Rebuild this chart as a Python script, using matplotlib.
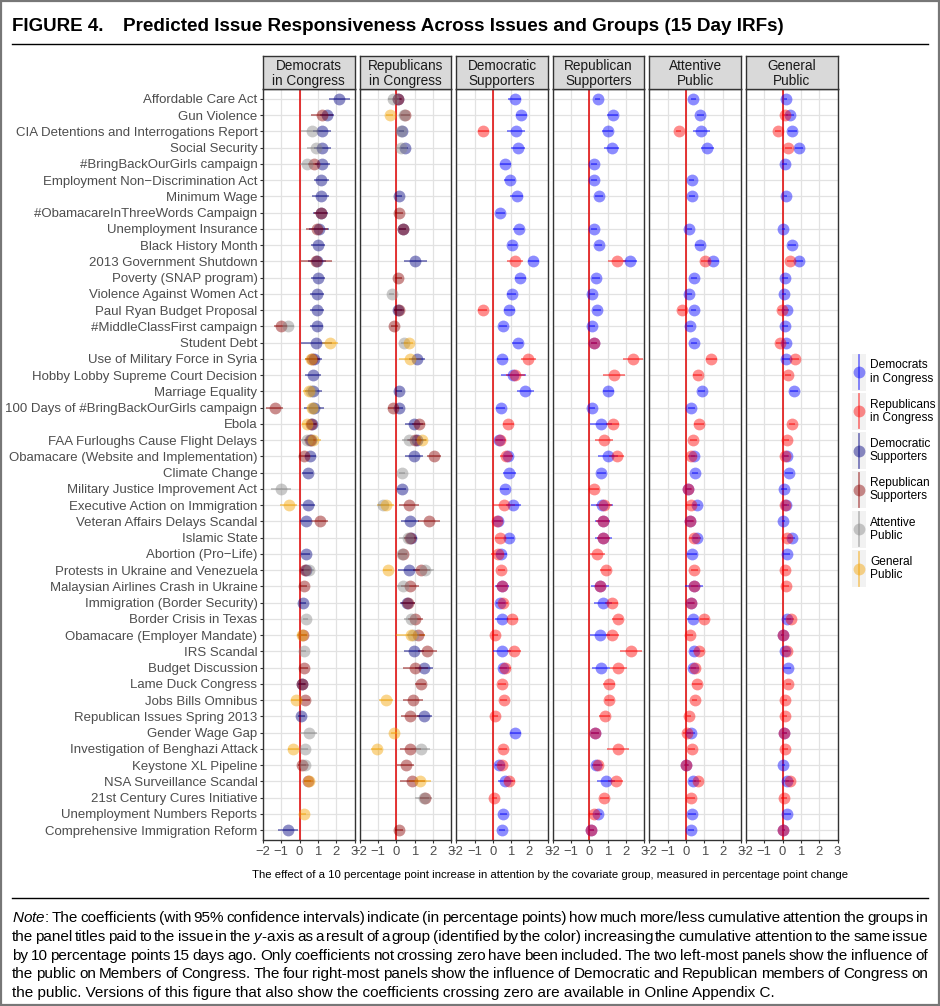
import numpy as np
import matplotlib
matplotlib.use("Agg")
import matplotlib.pyplot as plt
from matplotlib.patches import Rectangle

plt.rcParams['font.family'] = ['Liberation Sans', 'DejaVu Sans']
plt.rcParams['mathtext.fontset'] = 'custom'
plt.rcParams['mathtext.rm'] = 'Liberation Sans'
plt.rcParams['mathtext.it'] = 'Liberation Sans:italic'

ISSUES = [
    "Affordable Care Act", "Gun Violence", "CIA Detentions and Interrogations Report",
    "Social Security", "#BringBackOurGirls campaign", "Employment Non\u2212Discrimination Act",
    "Minimum Wage", "#ObamacareInThreeWords Campaign", "Unemployment Insurance",
    "Black History Month", "2013 Government Shutdown", "Poverty (SNAP program)",
    "Violence Against Women Act", "Paul Ryan Budget Proposal", "#MiddleClassFirst campaign",
    "Student Debt", "Use of Military Force in Syria", "Hobby Lobby Supreme Court Decision",
    "Marriage Equality", "100 Days of #BringBackOurGirls campaign", "Ebola",
    "FAA Furloughs Cause Flight Delays", "Obamacare (Website and Implementation)",
    "Climate Change", "Military Justice Improvement Act", "Executive Action on Immigration",
    "Veteran Affairs Delays Scandal", "Islamic State", "Abortion (Pro\u2212Life)",
    "Protests in Ukraine and Venezuela", "Malaysian Airlines Crash in Ukraine",
    "Immigration (Border Security)", "Border Crisis in Texas", "Obamacare (Employer Mandate)",
    "IRS Scandal", "Budget Discussion", "Lame Duck Congress", "Jobs Bills Omnibus",
    "Republican Issues Spring 2013", "Gender Wage Gap", "Investigation of Benghazi Attack",
    "Keystone XL Pipeline", "NSA Surveillance Scandal", "21st Century Cures Initiative",
    "Unemployment Numbers Reports", "Comprehensive Immigration Reform",
]

PANEL_TITLES = ["Democrats\nin Congress", "Republicans\nin Congress", "Democratic\nSupporters",
                "Republican\nSupporters", "Attentive\nPublic", "General\nPublic"]

GROUPS = ["DC", "RC", "DS", "RS", "AP", "GP"]
GROUP_LABELS = ["Democrats\nin Congress", "Republicans\nin Congress", "Democratic\nSupporters",
                "Republican\nSupporters", "Attentive\nPublic", "General\nPublic"]
GROUP_COLORS = {"DC": "#0000ff", "RC": "#ff0000", "DS": "#000080",
                "RS": "#8b0000", "AP": "#888888", "GP": "#f5a300"}

# (issue row, estimate, half width of 95% CI)
p1_ds = [(0, 2.18, 0.6), (1, 1.5, 0.4), (2, 1.24, 0.5), (3, 1.24, 0.45), (4, 1.24, 0.4),
         (5, 1.18, 0.4), (6, 1.15, 0.45), (7, 1.15, 0.4), (8, 1.04, 0.55), (9, 1.0, 0.4),
         (10, 0.95, 0.5), (11, 1.0, 0.4), (12, 0.95, 0.4), (13, 0.95, 0.4), (14, 0.93, 0.35),
         (15, 0.9, 0.85), (16, 0.78, 0.45), (17, 0.73, 0.45), (18, 0.75, 0.45), (19, 0.8, 0.55),
         (20, 0.7, 0.2), (21, 0.6, 0.3), (22, 0.58, 0.3), (23, 0.45, 0.3), (25, 0.45, 0.4),
         (26, 0.33, 0.3), (28, 0.33, 0.25), (29, 0.35, 0.2), (31, 0.18, 0.15), (36, 0.12, 0.2),
         (38, 0.09, 0.2), (45, -0.64, 0.55)]
p1_rs = [(1, 1.25, 0.6), (4, 0.78, 0.3), (7, 1.15, 0.35), (8, 0.96, 0.6), (10, 0.9, 0.85),
         (14, -1.04, 0.35), (16, 0.7, 0.4), (19, -1.36, 0.45), (20, 0.65, 0.3), (21, 0.55, 0.3),
         (22, 0.25, 0.3), (26, 1.09, 0.45), (29, 0.3, 0.2), (30, 0.22, 0.2), (33, 0.18, 0.2),
         (35, 0.24, 0.2), (36, 0.15, 0.2), (37, 0.27, 0.3), (41, 0.13, 0.2), (42, 0.45, 0.2)]
p1_ap = [(2, 0.67, 0.6), (3, 0.9, 0.5), (4, 0.42, 0.4), (14, -0.62, 0.3), (18, 0.65, 0.3),
         (19, 0.75, 0.4), (21, 0.38, 0.35), (24, -1.04, 0.55), (29, 0.5, 0.3), (32, 0.33, 0.15),
         (34, 0.22, 0.15), (39, 0.49, 0.45), (40, 0.27, 0.2), (41, 0.31, 0.2)]
p1_gp = [(15, 1.65, 0.45), (16, 0.62, 0.35), (18, 0.5, 0.3), (19, 0.7, 0.3), (20, 0.42, 0.3),
         (21, 0.75, 0.4), (25, -0.6, 0.45), (33, 0.12, 0.25), (37, -0.18, 0.3), (40, -0.35, 0.3),
         (42, 0.5, 0.25), (44, 0.22, 0.15)]

p2_ds = [(0, 0.12, 0.15), (2, 0.3, 0.15), (3, 0.47, 0.2), (6, 0.15, 0.15), (8, 0.35, 0.2),
         (10, 1.05, 0.65), (13, 0.1, 0.2), (16, 1.15, 0.45), (18, 0.15, 0.15), (19, 0.15, 0.2),
         (20, 0.98, 0.5), (21, 1.15, 0.5), (22, 0.98, 0.5), (24, 0.29, 0.25), (26, 0.76, 0.5),
         (27, 0.8, 0.35), (29, 0.69, 0.6), (31, 0.6, 0.4), (34, 0.96, 0.55), (35, 1.53, 0.5),
         (38, 1.53, 0.4)]
p2_rs = [(0, 0.1, 0.2), (1, 0.5, 0.25), (7, 0.16, 0.2), (8, 0.35, 0.2), (11, 0.11, 0.2),
         (13, 0.15, 0.25), (14, -0.11, 0.2), (19, -0.15, 0.3), (20, 1.24, 0.35), (21, 1.0, 0.4),
         (22, 2.07, 0.4), (25, 0.69, 0.55), (26, 1.78, 0.6), (27, 0.75, 0.3), (28, 0.35, 0.25),
         (29, 1.38, 0.45), (30, 0.75, 0.5), (31, 0.65, 0.4), (32, 1.05, 0.4), (33, 1.2, 0.4),
         (34, 1.71, 0.5), (35, 1.05, 0.7), (36, 1.33, 0.3), (37, 0.93, 0.55), (38, 0.78, 0.5),
         (40, 0.78, 0.55), (41, 0.51, 0.45), (42, 0.89, 0.7), (43, 1.55, 0.25), (45, 0.16, 0.2)]
p2_ap = [(0, -0.2, 0.25), (1, 0.45, 0.3), (2, 0.25, 0.2), (3, 0.25, 0.2), (12, -0.25, 0.15),
         (15, 0.44, 0.2), (21, 0.7, 0.4), (23, 0.33, 0.15), (25, -0.7, 0.3), (27, 0.65, 0.5),
         (28, 0.3, 0.2), (29, 1.56, 0.5), (30, 0.38, 0.35), (32, 0.8, 0.4), (33, 0.9, 0.3),
         (40, 1.33, 0.5), (43, 1.5, 0.45)]
p2_gp = [(1, -0.35, 0.2), (15, 0.69, 0.25), (16, 0.75, 0.6), (21, 1.4, 0.3), (25, -0.58, 0.45),
         (29, -0.47, 0.25), (33, 0.8, 0.8), (37, -0.56, 0.4), (39, -0.11, 0.15), (40, -1.05, 0.3),
         (42, 1.29, 0.6)]

p3_dc = [(0, 1.2, 0.35), (1, 1.55, 0.3), (2, 1.27, 0.5), (3, 1.38, 0.4), (4, 0.69, 0.3),
         (5, 0.93, 0.3), (6, 1.31, 0.35), (7, 0.4, 0.25), (8, 1.42, 0.3), (9, 1.07, 0.25),
         (10, 2.22, 0.3), (11, 1.49, 0.3), (12, 1.04, 0.25), (13, 0.91, 0.3), (14, 0.55, 0.2),
         (15, 1.35, 0.3), (16, 0.51, 0.3), (17, 1.13, 0.7), (18, 1.78, 0.45), (19, 0.44, 0.25),
         (21, 0.35, 0.2), (22, 0.85, 0.25), (23, 0.91, 0.35), (24, 0.64, 0.25), (25, 1.13, 0.4),
         (26, 0.3, 0.25), (27, 0.91, 0.25), (28, 0.45, 0.3), (30, 0.5, 0.4), (31, 0.4, 0.25),
         (32, 0.49, 0.35), (34, 0.51, 0.5), (35, 0.55, 0.2), (39, 1.22, 0.3), (41, 0.33, 0.2),
         (42, 0.69, 0.4), (44, 0.58, 0.2), (45, 0.49, 0.15)]
p3_rc = [(2, -0.51, 0.3), (10, 1.22, 0.45), (13, -0.55, 0.25), (16, 1.95, 0.4), (17, 1.24, 0.5),
         (20, 0.84, 0.3), (21, 0.4, 0.3), (22, 0.73, 0.35), (25, 0.6, 0.6), (26, 0.22, 0.25),
         (27, 0.4, 0.3), (28, 0.27, 0.35), (29, 0.47, 0.2), (30, 0.5, 0.3), (31, 0.58, 0.25),
         (32, 1.05, 0.3), (33, 0.13, 0.15), (34, 1.15, 0.4), (35, 0.69, 0.3), (36, 0.51, 0.2),
         (37, 0.6, 0.2), (38, 0.13, 0.15), (40, 0.55, 0.2), (41, 0.49, 0.2), (42, 0.91, 0.3),
         (43, 0.09, 0.15)]

p4_dc = [(0, 0.45, 0.15), (1, 1.27, 0.3), (2, 1.0, 0.3), (3, 1.22, 0.4), (4, 0.25, 0.15),
         (5, 0.25, 0.15), (6, 0.53, 0.2), (8, 0.25, 0.15), (9, 0.51, 0.2), (10, 2.22, 0.4),
         (11, 0.36, 0.2), (12, 0.15, 0.15), (13, 0.42, 0.2), (14, 0.15, 0.15), (15, 0.25, 0.15),
         (18, 1.04, 0.3), (19, 0.15, 0.15), (20, 0.62, 0.6), (22, 1.0, 0.55), (23, 0.64, 0.25),
         (25, 0.67, 0.6), (26, 0.72, 0.4), (27, 0.76, 0.45), (30, 0.58, 0.5), (31, 0.73, 0.5),
         (33, 0.58, 0.55), (35, 0.62, 0.5), (39, 0.3, 0.2), (41, 0.36, 0.2), (42, 0.91, 0.5),
         (44, 0.49, 0.2), (45, 0.11, 0.15)]
p4_rc = [(10, 1.49, 0.5), (15, 0.25, 0.15), (16, 2.36, 0.55), (17, 1.36, 0.6), (20, 1.27, 0.35),
         (21, 0.8, 0.5), (22, 1.49, 0.4), (24, 0.25, 0.25), (25, 0.8, 0.45), (26, 0.72, 0.35),
         (27, 0.76, 0.35), (28, 0.44, 0.4), (29, 0.89, 0.3), (30, 0.58, 0.25), (31, 1.22, 0.35),
         (32, 1.55, 0.3), (33, 1.25, 0.35), (34, 2.25, 0.6), (35, 1.58, 0.45), (36, 1.07, 0.35),
         (37, 1.09, 0.25), (38, 0.85, 0.3), (39, 0.3, 0.2), (40, 1.55, 0.6), (41, 0.49, 0.25),
         (42, 1.44, 0.4), (43, 0.82, 0.25), (44, 0.25, 0.25), (45, 0.11, 0.15)]

p5_dc = [(0, 0.4, 0.15), (1, 0.78, 0.2), (2, 0.84, 0.45), (3, 1.16, 0.35), (5, 0.31, 0.15),
         (6, 0.33, 0.15), (8, 0.18, 0.15), (9, 0.75, 0.25), (10, 1.49, 0.3), (11, 0.45, 0.15),
         (12, 0.18, 0.15), (13, 0.42, 0.15), (14, 0.22, 0.15), (15, 0.45, 0.15), (18, 0.85, 0.2),
         (19, 0.29, 0.2), (22, 0.45, 0.15), (23, 0.49, 0.15), (24, 0.13, 0.15), (25, 0.58, 0.2),
         (26, 0.22, 0.15), (27, 0.6, 0.2), (28, 0.33, 0.25), (30, 0.45, 0.5), (31, 0.27, 0.15),
         (32, 0.36, 0.3), (34, 0.45, 0.25), (35, 0.36, 0.2), (39, 0.27, 0.2), (41, 0.02, 0.1),
         (42, 0.36, 0.2), (44, 0.33, 0.2), (45, 0.27, 0.15)]
p5_rc = [(2, -0.4, 0.15), (10, 1.05, 0.25), (13, -0.24, 0.2), (16, 1.38, 0.3), (17, 0.65, 0.25),
         (20, 0.71, 0.3), (21, 0.4, 0.2), (22, 0.29, 0.2), (24, 0.13, 0.2), (25, 0.27, 0.25),
         (26, 0.22, 0.2), (27, 0.42, 0.25), (29, 0.45, 0.2), (30, 0.45, 0.2), (31, 0.27, 0.2),
         (32, 1.0, 0.25), (33, 0.22, 0.15), (34, 0.69, 0.3), (35, 0.49, 0.2), (36, 0.6, 0.25),
         (37, 0.47, 0.15), (38, 0.15, 0.1), (39, 0.05, 0.2), (40, 0.31, 0.2), (41, 0.02, 0.15),
         (42, 0.64, 0.2), (43, 0.27, 0.2)]

p6_dc = [(0, 0.16, 0.1), (1, 0.4, 0.2), (2, 0.53, 0.25), (3, 0.89, 0.2), (4, 0.11, 0.15),
         (6, 0.16, 0.1), (8, 0.04, 0.1), (9, 0.51, 0.2), (10, 0.89, 0.2), (11, 0.13, 0.15),
         (12, 0.07, 0.1), (13, 0.22, 0.15), (14, 0.13, 0.15), (15, 0.18, 0.15), (16, 0.18, 0.2),
         (18, 0.62, 0.2), (22, 0.22, 0.15), (23, 0.35, 0.2), (24, 0.07, 0.15), (25, 0.18, 0.15),
         (26, 0.04, 0.1), (27, 0.49, 0.2), (28, 0.22, 0.2), (32, 0.25, 0.2), (33, 0.0, 0.1),
         (34, 0.15, 0.15), (35, 0.27, 0.2), (39, 0.09, 0.15), (41, 0.04, 0.1), (42, 0.22, 0.15),
         (44, 0.25, 0.2), (45, 0.04, 0.1)]
p6_rc = [(1, 0.13, 0.15), (2, -0.25, 0.15), (3, 0.31, 0.2), (10, 0.42, 0.2), (13, -0.05, 0.2),
         (15, -0.15, 0.2), (16, 0.67, 0.2), (17, 0.29, 0.15), (20, 0.51, 0.15), (21, 0.22, 0.15),
         (22, 0.13, 0.15), (25, 0.11, 0.15), (27, 0.25, 0.2), (29, 0.13, 0.15), (30, 0.18, 0.15),
         (32, 0.45, 0.2), (33, 0.0, 0.1), (34, 0.25, 0.15), (36, 0.31, 0.15), (37, 0.13, 0.1),
         (38, 0.11, 0.15), (39, 0.09, 0.15), (40, 0.13, 0.15), (42, 0.4, 0.2), (43, 0.07, 0.15),
         (45, 0.04, 0.1)]

PANELS = [
    {"DS": p1_ds, "RS": p1_rs, "AP": p1_ap, "GP": p1_gp},
    {"DS": p2_ds, "RS": p2_rs, "AP": p2_ap, "GP": p2_gp},
    {"DC": p3_dc, "RC": p3_rc},
    {"DC": p4_dc, "RC": p4_rc},
    {"DC": p5_dc, "RC": p5_rc},
    {"DC": p6_dc, "RC": p6_rc},
]

XLABEL = ("The effect of a 10 percentage point increase in attention by the covariate group, "
          "measured in percentage point change")
NOTE_LINES = [
    "$\\it{Note}$: The coefficients (with 95% confidence intervals) indicate (in percentage points) how much more/less cumulative attention the groups in",
    "the panel titles paid to the issue in the $\\it{y}$-axis as a result of a group (identified by the color) increasing the cumulative attention to the same issue",
    "by 10 percentage points 15 days ago. Only coefficients not crossing zero have been included. The two left-most panels show the influence of",
    "the public on Members of Congress. The four right-most panels show the influence of Democratic and Republican members of Congress on",
    "the public. Versions of this figure that also show the coefficients crossing zero are available in Online Appendix C.",
]

W, H = 940, 1006
fig = plt.figure(figsize=(W / 100, H / 100), dpi=100)
ov = fig.add_axes([0, 0, 1, 1], zorder=-1)
ov.set_xlim(0, W)
ov.set_ylim(H, 0)
ov.axis('off')


def fbox(x0, y0, x1, y1):
    return [x0 / W, 1 - y1 / H, (x1 - x0) / W, (y1 - y0) / H]


left0, pitch, pw = 263, 96.6, 91.5
ptop, pbot, stop = 89, 840, 56
edge = '#333333'

for k, (title, groups) in enumerate(zip(PANEL_TITLES, PANELS)):
    x0 = left0 + k * pitch
    ax = fig.add_axes(fbox(x0, ptop, x0 + pw, pbot))
    ax.set_xlim(-2, 3)
    ax.set_ylim(len(ISSUES) - 0.4, -0.6)
    ax.set_xticks(range(-2, 4))
    ax.set_yticks(range(len(ISSUES)))
    ax.grid(True, color='#e2e2e2', lw=0.9)
    ax.set_axisbelow(True)
    ax.axvline(0, color='#e00000', lw=1.1, zorder=2)
    for g in GROUPS:
        if g not in groups:
            continue
        rows, est, hw = map(np.array, zip(*groups[g]))
        ax.hlines(rows, est - hw, est + hw, color=GROUP_COLORS[g], alpha=0.5, lw=1.3, zorder=3)
        ax.plot(est, rows, 'o', ms=8.5, color=GROUP_COLORS[g], alpha=0.45, mec='none', zorder=4)
    for s in ax.spines.values():
        s.set_color(edge)
        s.set_linewidth(1.0)
    ax.tick_params(axis='x', length=2.5, color=edge, labelsize=9.4, labelcolor='#4d4d4d', pad=1.5)
    if k == 0:
        ax.set_yticklabels(ISSUES)
        ax.tick_params(axis='y', length=2.5, color=edge, labelsize=9.55, labelcolor='#4d4d4d', pad=1.5)
    else:
        ax.tick_params(axis='y', length=0, labelleft=False)

    sa = fig.add_axes(fbox(x0, stop, x0 + pw, ptop))
    sa.set_facecolor('#d9d9d9')
    sa.set_xticks([])
    sa.set_yticks([])
    for s in sa.spines.values():
        s.set_color(edge)
        s.set_linewidth(1.0)
    sa.text(0.5, 0.47, title, ha='center', va='center', fontsize=9.8, color='#1a1a1a',
            linespacing=1.1, transform=sa.transAxes)

# x axis label
ov.text(550, 875, XLABEL, ha='center', va='center', fontsize=8.2)

# legend
ly0, lstep = 372, 39.3
for i, (g, lab) in enumerate(zip(GROUPS, GROUP_LABELS)):
    cy = ly0 + i * lstep
    ov.add_patch(Rectangle((852, cy - 18.5), 14, 37, facecolor='#f2f2f2', edgecolor='none'))
    ov.plot([859, 859], [cy - 17, cy + 17], color=GROUP_COLORS[g], alpha=0.5, lw=1.3)
    ov.plot(859, cy, 'o', ms=8.5, color=GROUP_COLORS[g], alpha=0.45, mec='none')
    ov.text(870, cy, lab, ha='left', va='center', fontsize=8.6, linespacing=1.12)

# title and rules
ov.text(12, 31, "FIGURE 4.", fontsize=13.5, weight='bold', va='baseline')
ov.text(123, 31, "Predicted Issue Responsiveness Across Issues and Groups (15 Day IRFs)",
        fontsize=13.6, weight='bold', va='baseline')
ov.plot([12, 928], [43.5, 43.5], color='black', lw=1.0)
ov.plot([12, 928], [898, 898], color='black', lw=1.0)
ov.add_patch(Rectangle((0.8, 0.8), W - 1.6, H - 1.6, facecolor='none', edgecolor='#777777', lw=1.6))

# note, justified between x = 12 and 928
renderer = fig.canvas.get_renderer()
nfs = 11
for j, line in enumerate(NOTE_LINES):
    yb = 922 + j * 18.8
    if j == len(NOTE_LINES) - 1:
        ov.text(12, yb, line, fontsize=nfs, va='baseline')
        continue
    words = line.split(' ')
    texts = [ov.text(0, yb, w, fontsize=nfs, va='baseline') for w in words]
    widths = [t.get_window_extent(renderer).width for t in texts]
    gap = (928 - 12 - sum(widths)) / (len(words) - 1)
    x = 12
    for t, wd in zip(texts, widths):
        t.set_x(x)
        x += wd + gap

fig.savefig("out.png", dpi=100)
